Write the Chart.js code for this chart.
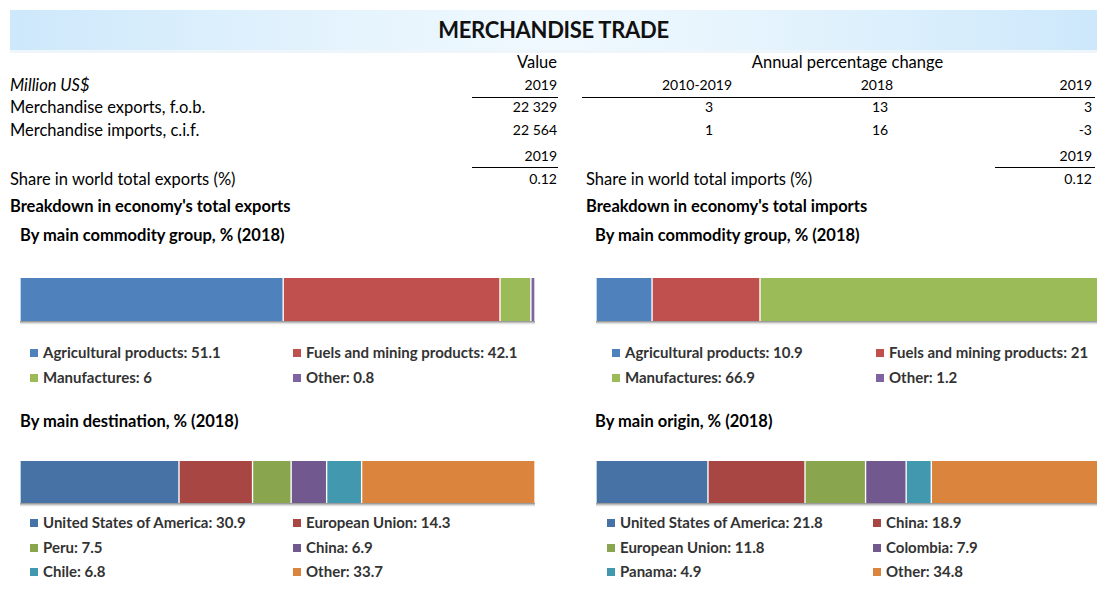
<!DOCTYPE html>
<html><head><meta charset="utf-8">
<script src="https://cdn.jsdelivr.net/npm/chart.js@4.4.1/dist/chart.umd.min.js"></script>
<style>
html,body{margin:0;padding:0;background:#fff;width:1097px;height:594px;overflow:hidden;}
body{position:relative;font-family:Lato,"Open Sans",sans-serif;color:#000;}
.t{position:absolute;white-space:nowrap;font-size:16.5px;line-height:20px;}
.n{font-size:14px;}
.r{text-align:right;}
.c{text-align:center;}
.b{font-weight:bold;}
.ln{position:absolute;height:1px;background:#000;}
#banner{position:absolute;left:10px;top:10px;width:1087px;height:40px;
 background:linear-gradient(90deg,#cde8fb 0%,#e4f3fd 30%,#f0f9fe 50%,#e4f3fd 70%,#cde8fb 100%);}
#banner2{position:absolute;left:10px;top:50px;width:1087px;height:3px;background:#eef6fc;}
#title{position:absolute;left:10px;width:1087px;top:16px;text-align:center;font-weight:bold;font-size:22px;line-height:28px;letter-spacing:-0.3px;color:#111;}
.bar{position:absolute;}
.shadow{position:absolute;height:4px;background:linear-gradient(#8a8a8a,#e0e0e0 60%,#fff);}
.lg{position:absolute;white-space:nowrap;font-size:15px;font-weight:bold;line-height:18px;color:#333;}
.sq{display:inline-block;width:8px;height:8px;margin-right:5px;vertical-align:1px;}
</style></head><body>
<div id="banner"></div><div id="banner2"></div>
<div id="title">MERCHANDISE TRADE</div>

<div class="t r" style="left:400px;width:157px;top:52px">Value</div>
<div class="t c" style="left:700px;width:295px;top:52px">Annual percentage change</div>
<div class="t" style="left:10px;top:75px;font-style:italic">Million US$</div>
<div class="t n r" style="left:400px;width:157px;top:75px">2019</div>
<div class="t n c" style="left:647px;width:100px;top:75px">2010-2019</div>
<div class="t n c" style="left:827px;width:100px;top:75px">2018</div>
<div class="t n r" style="left:992px;width:100px;top:75px">2019</div>
<div class="ln" style="left:472px;width:86px;top:97px"></div>
<div class="ln" style="left:582px;width:513px;top:97px"></div>

<div class="t" style="left:10px;top:97px">Merchandise exports, f.o.b.</div>
<div class="t n r" style="left:400px;width:157px;top:97px" id="expV"></div>
<div class="t n c" style="left:659px;width:100px;top:97px" id="exp1"></div>
<div class="t n c" style="left:830px;width:100px;top:97px" id="exp2"></div>
<div class="t n r" style="left:992px;width:100px;top:97px" id="exp3"></div>
<div class="t" style="left:10px;top:120px">Merchandise imports, c.i.f.</div>
<div class="t n r" style="left:400px;width:157px;top:120px" id="impV"></div>
<div class="t n c" style="left:659px;width:100px;top:120px" id="imp1"></div>
<div class="t n c" style="left:830px;width:100px;top:120px" id="imp2"></div>
<div class="t n r" style="left:992px;width:100px;top:120px" id="imp3"></div>

<div class="t n r" style="left:400px;width:157px;top:146px">2019</div>
<div class="t n r" style="left:992px;width:100px;top:146px">2019</div>
<div class="ln" style="left:472px;width:86px;top:167px"></div>
<div class="ln" style="left:995px;width:100px;top:167px"></div>
<div class="t" style="left:10px;top:169px">Share in world total exports (%)</div>
<div class="t n r" style="left:400px;width:157px;top:169px" id="shE"></div>
<div class="t" style="left:586px;top:169px">Share in world total imports (%)</div>
<div class="t n r" style="left:992px;width:100px;top:169px" id="shI"></div>

<div class="t b" style="left:10px;top:196px">Breakdown in economy's total exports</div>
<div class="t b" style="left:586px;top:196px">Breakdown in economy's total imports</div>
<div class="t b" style="left:20px;top:225px">By main commodity group, % (2018)</div>
<div class="t b" style="left:595px;top:225px">By main commodity group, % (2018)</div>
<div class="t b" style="left:20px;top:411px">By main destination, % (2018)</div>
<div class="t b" style="left:595px;top:411px">By main origin, % (2018)</div>

<div class="bar" style="left:20px;top:278px;width:515px;height:43px"><canvas id="c1" width="515" height="43"></canvas></div>
<div class="shadow" style="left:20px;top:321px;width:515px"></div>
<div class="bar" style="left:596px;top:278px;width:514px;height:43px"><canvas id="c2" width="514" height="43"></canvas></div>
<div class="shadow" style="left:596px;top:321px;width:514px"></div>
<div class="bar" style="left:20px;top:461px;width:515px;height:42px"><canvas id="c3" width="515" height="42"></canvas></div>
<div class="shadow" style="left:20px;top:503px;width:515px"></div>
<div class="bar" style="left:596px;top:461px;width:514px;height:42px"><canvas id="c4" width="514" height="42"></canvas></div>
<div class="shadow" style="left:596px;top:503px;width:514px"></div>

<div id="legends"></div>

<script>
// ---- table data ----
const tradeValues2019 = ["22 329", "22 564"];
const exportsChange = ["3", "13", "3"];
const importsChange = ["1", "16", "-3"];
const shareWorld = ["0.12", "0.12"];

// ---- bar data ----
const commodityLabels = ["Agricultural products", "Fuels and mining products", "Manufactures", "Other"];
const exportsCommodity = [51.1, 42.1, 6, 0.8];
const importsCommodity = [10.9, 21, 66.9, 1.2];
const commodityColors = ["#4F81BD", "#C0504D", "#9BBB59", "#8064A2"];

const destLabels = ["United States of America", "European Union", "Peru", "China", "Chile", "Other"];
const destValues = [30.9, 14.3, 7.5, 6.9, 6.8, 33.7];
const originLabels = ["United States of America", "China", "European Union", "Colombia", "Panama", "Other"];
const originValues = [21.8, 18.9, 11.8, 7.9, 4.9, 34.8];
const partnerColors = ["#4672A6", "#A84644", "#89A54E", "#71588F", "#4198AF", "#DB843D"];

document.getElementById('expV').textContent = tradeValues2019[0];
document.getElementById('impV').textContent = tradeValues2019[1];
['exp1','exp2','exp3'].forEach((id,i)=>document.getElementById(id).textContent=exportsChange[i]);
['imp1','imp2','imp3'].forEach((id,i)=>document.getElementById(id).textContent=importsChange[i]);
document.getElementById('shE').textContent = shareWorld[0];
document.getElementById('shI').textContent = shareWorld[1];

function makeBar(id, labels, values, colors, total){
  new Chart(document.getElementById(id), {
    type: 'bar',
    data: {
      labels: [''],
      datasets: labels.map((l,i)=>({
        label: l, data: [values[i]], backgroundColor: colors[i],
        borderColor: 'rgba(255,255,255,0.85)', borderWidth: {left:1, right:1, top:0, bottom:0},
        borderSkipped: false, barPercentage: 1, categoryPercentage: 1
      }))
    },
    options: {
      indexAxis: 'y', responsive: false, animation: false,
      layout: {padding: 0},
      plugins: {legend: {display: false}, tooltip: {enabled: false}},
      scales: {
        x: {display: false, stacked: true, min: 0, max: total},
        y: {display: false, stacked: true}
      }
    }
  });
}
const sum = a => a.reduce((s,v)=>s+v,0);
makeBar('c1', commodityLabels, exportsCommodity, commodityColors, 100);
makeBar('c2', commodityLabels, importsCommodity, commodityColors, 100);
makeBar('c3', destLabels, destValues, partnerColors, sum(destValues));
makeBar('c4', originLabels, originValues, partnerColors, sum(originValues));

function legend(labels, values, colors, x0, x1, y0, dy){
  const host = document.getElementById('legends');
  labels.forEach((l,i)=>{
    const d = document.createElement('div');
    d.className = 'lg';
    d.style.left = (i%2===0 ? x0 : x1) + 'px';
    d.style.top = (y0 + Math.floor(i/2)*dy - 9) + 'px';
    d.innerHTML = '<span class="sq" style="background:'+colors[i]+'"></span>' + l + ': ' + values[i];
    host.appendChild(d);
  });
}
legend(commodityLabels, exportsCommodity, commodityColors, 30, 293, 352, 25);
legend(commodityLabels, importsCommodity, commodityColors, 612, 876, 352, 25);
legend(destLabels, destValues, partnerColors, 30, 293, 522, 24.5);
legend(originLabels, originValues, partnerColors, 607, 873, 522, 24.5);
</script>
</body></html>
